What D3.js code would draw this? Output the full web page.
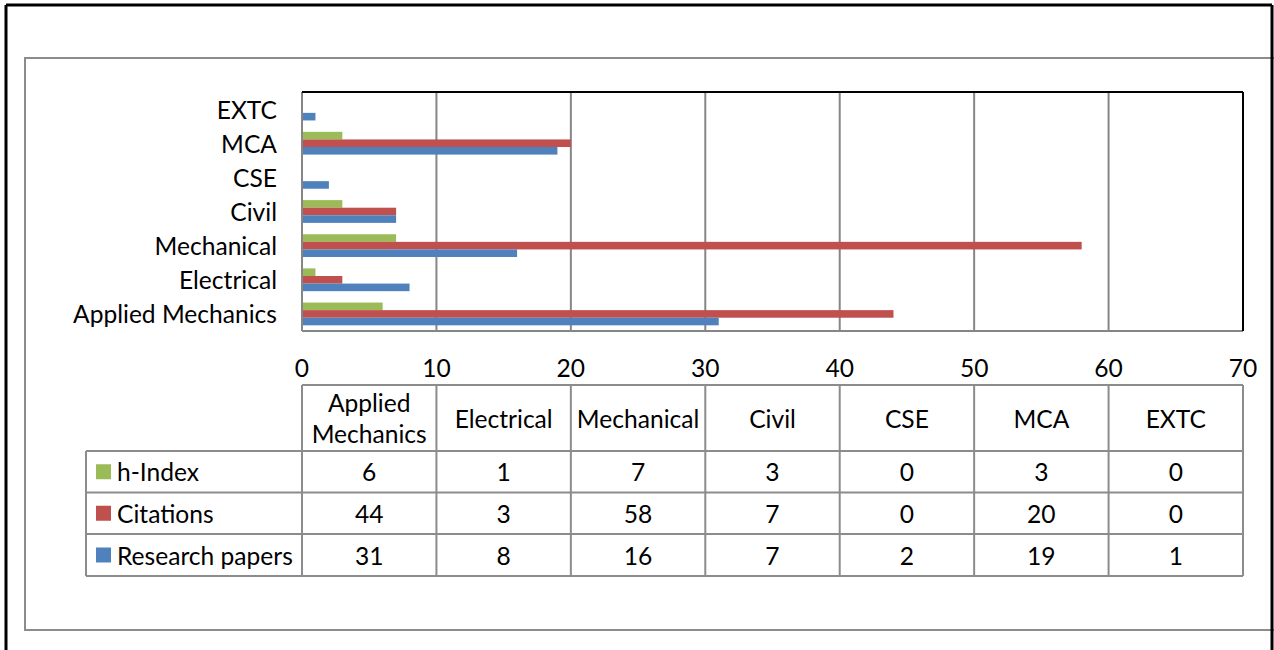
<!DOCTYPE html>
<html>
<head>
<meta charset="utf-8">
<script src="https://cdnjs.cloudflare.com/ajax/libs/d3/7.8.5/d3.min.js"></script>
<style>
html,body{margin:0;padding:0;background:#fff;}
svg{display:block;}
</style>
</head>
<body>
<svg id="chart" width="1274" height="650"></svg>
<script>
// ---- data ----
const categories = ["Applied Mechanics","Electrical","Mechanical","Civil","CSE","MCA","EXTC"];
const seriesNames = ["h-Index","Citations","Research papers"];
const hIndex = [6,1,7,3,0,3,0];
const citations = [44,3,58,7,0,20,0];
const researchPapers = [31,8,16,7,2,19,1];
const xTicks = [0,10,20,30,40,50,60,70];
const headerLines = [["Applied","Mechanics"],["Electrical"],["Mechanical"],["Civil"],["CSE"],["MCA"],["EXTC"]];

const seriesValues = [hIndex, citations, researchPapers];
const colors = ["#9BBB59","#C0504D","#4F81BD"];

const svg = d3.select("#chart");
const FONT = "Lato, 'Open Sans', sans-serif";

// fit font size so "Applied Mechanics" is ~204px wide (Calibri-like metrics)
const probe = svg.append("text").attr("font-family", FONT).attr("font-size", 100).text("Applied Mechanics");
const w100 = probe.node().getComputedTextLength();
probe.remove();
const fs = Math.min(26, 100 * 204 / w100);

// frames
svg.append("rect").attr("x",25).attr("y",58).attr("width",1260).attr("height",572)
  .attr("fill","none").attr("stroke","#8c8c8c").attr("stroke-width",2);
svg.append("line").attr("x1",6).attr("y1",5).attr("x2",1272).attr("y2",5).attr("stroke","#000").attr("stroke-width",3);
svg.append("line").attr("x1",6).attr("y1",5).attr("x2",6).attr("y2",650).attr("stroke","#000").attr("stroke-width",3);
svg.append("line").attr("x1",1272).attr("y1",5).attr("x2",1272).attr("y2",650).attr("stroke","#000").attr("stroke-width",3);

// plot area
const pL = 302, pR = 1243, pT = 92, pB = 331;
const x = d3.scaleLinear().domain([0,70]).range([pL, pR]);
const y = d3.scaleBand().domain(categories.slice().reverse()).range([pT, pB]).padding(0);
const ySub = d3.scaleBand().domain(seriesNames).range([0, y.bandwidth()]).paddingInner(0).paddingOuter(0.75);

// gridlines
const grid = svg.append("g");
grid.selectAll("line").data(xTicks.slice(1, -1)).join("line")
  .attr("x1", d => x(d)).attr("x2", d => x(d))
  .attr("y1", pT).attr("y2", pB)
  .attr("stroke", "#868686").attr("stroke-width", 2);

// bars
seriesNames.forEach((s, si) => {
  svg.append("g").selectAll("rect").data(categories.map((c, i) => ({c, v: seriesValues[si][i]})))
    .join("rect")
    .attr("x", x(0))
    .attr("y", d => y(d.c) + ySub(s))
    .attr("width", d => x(d.v) - x(0))
    .attr("height", ySub.bandwidth())
    .attr("fill", colors[si]);
});

// plot borders
svg.append("line").attr("x1",pL).attr("x2",pR).attr("y1",pB).attr("y2",pB).attr("stroke","#868686").attr("stroke-width",2);
svg.append("line").attr("x1",pL).attr("x2",pL).attr("y1",pT).attr("y2",pB).attr("stroke","#868686").attr("stroke-width",2);
svg.append("line").attr("x1",pL).attr("x2",pR).attr("y1",pT).attr("y2",pT).attr("stroke","#000").attr("stroke-width",2);
svg.append("line").attr("x1",pR).attr("x2",pR).attr("y1",pT).attr("y2",pB).attr("stroke","#000").attr("stroke-width",2);

// category labels
svg.append("g").selectAll("text").data(categories).join("text")
  .attr("x", 277).attr("y", d => y(d) + y.bandwidth()/2)
  .attr("text-anchor","end").attr("dominant-baseline","central")
  .attr("font-family", FONT).attr("font-size", fs).attr("fill","#000")
  .text(d => d);

// x tick labels
svg.append("g").selectAll("text").data(xTicks).join("text")
  .attr("x", d => x(d)).attr("y", 367)
  .attr("text-anchor","middle").attr("dominant-baseline","central")
  .attr("font-family", FONT).attr("font-size", fs).attr("fill","#000")
  .text(d => d);

// data table
const tTop = 385, hBottom = 451, rowYs = [451, 492.5, 534, 576], legLeft = 86;
const colW = (pR - pL) / categories.length;
const tbl = svg.append("g");
const gray = "#8c8c8c";
tbl.append("line").attr("x1",pL).attr("x2",pR).attr("y1",tTop).attr("y2",tTop).attr("stroke",gray).attr("stroke-width",2);
rowYs.forEach(yy => tbl.append("line").attr("x1",legLeft).attr("x2",pR).attr("y1",yy).attr("y2",yy).attr("stroke",gray).attr("stroke-width",2));
tbl.append("line").attr("x1",legLeft).attr("x2",legLeft).attr("y1",hBottom).attr("y2",rowYs[3]).attr("stroke",gray).attr("stroke-width",2);
d3.range(categories.length + 1).forEach(i => {
  const xx = pL + i * colW;
  tbl.append("line").attr("x1",xx).attr("x2",xx).attr("y1",tTop).attr("y2",rowYs[3]).attr("stroke",gray).attr("stroke-width",2);
});

// header text
categories.forEach((c, i) => {
  const cx = pL + (i + 0.5) * colW;
  const lines = headerLines[i];
  const lh = 31;
  lines.forEach((ln, li) => {
    tbl.append("text")
      .attr("x", cx).attr("y", (tTop + hBottom)/2 + (li - (lines.length - 1)/2) * lh)
      .attr("text-anchor","middle").attr("dominant-baseline","central")
      .attr("font-family", FONT).attr("font-size", fs).attr("fill","#000")
      .text(ln);
  });
});

// rows
seriesNames.forEach((s, si) => {
  const cy = (rowYs[si] + rowYs[si+1]) / 2;
  tbl.append("rect").attr("x", 96).attr("y", cy - 7.5).attr("width", 15).attr("height", 15).attr("fill", colors[si]);
  tbl.append("text").attr("x", 117).attr("y", cy)
    .attr("dominant-baseline","central")
    .attr("font-family", FONT).attr("font-size", fs).attr("fill","#000")
    .text(s);
  seriesValues[si].forEach((v, i) => {
    tbl.append("text").attr("x", pL + (i + 0.5) * colW).attr("y", cy)
      .attr("text-anchor","middle").attr("dominant-baseline","central")
      .attr("font-family", FONT).attr("font-size", fs).attr("fill","#000")
      .text(v);
  });
});
</script>
</body>
</html>
